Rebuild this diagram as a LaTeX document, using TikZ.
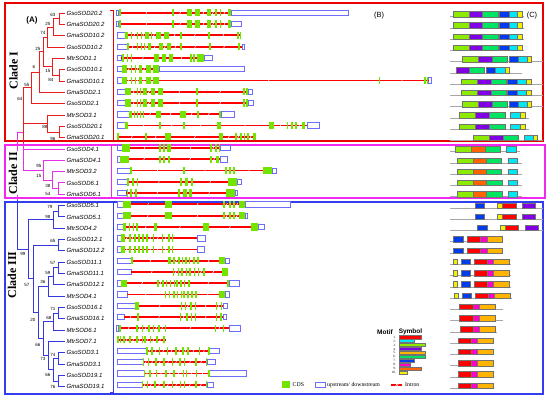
\documentclass[tikz,border=0pt]{standalone}
\usepackage{fontspec}
\setmainfont{Liberation Serif}
\setsansfont{Liberation Sans}
\definecolor{cI}{RGB}{232,30,30}
\definecolor{cII}{RGB}{230,50,230}
\definecolor{cIII}{RGB}{55,55,225}
\definecolor{fI}{RGB}{235,0,0}
\definecolor{fII}{RGB}{240,40,240}
\definecolor{fIII}{RGB}{50,60,240}
\definecolor{cdsg}{RGB}{115,228,0}
\definecolor{utrb}{RGB}{110,110,250}
\definecolor{mlime}{RGB}{140,235,0}
\definecolor{mpurp}{RGB}{130,0,230}
\definecolor{mgreen}{RGB}{0,228,100}
\definecolor{mblue}{RGB}{0,60,235}
\definecolor{mcyan}{RGB}{0,230,245}
\definecolor{myel}{RGB}{240,240,0}
\definecolor{morange}{RGB}{255,100,0}
\definecolor{mred}{RGB}{255,0,0}
\definecolor{mmag}{RGB}{255,0,200}
\definecolor{mgold}{RGB}{255,180,0}
\newcommand\xRY[1]{\pgfmathsetmacro\gy{12.8+11.27*(#1-1)}}
\newcommand\xLY[1]{\pgfmathsetmacro\ly{13+11.33*(#1-1)}}
\newcommand\xMY[1]{\pgfmathsetmacro\my{14+11.26*(#1-1)}}
\newcommand\xgene[4]{\xRY{#1}%
  \draw[intron] (#2,\gy) -- (#3,\gy);%
  \foreach \a/\b [remember=\b as \pb (initially #2)] in {#4}{%
    \pgfmathsetmacro\igap{\a-\pb}%
    \ifdim\igap pt>3pt\relax
      \pgfmathsetmacro\midx{(\a+\pb)/2}%
      \draw[imark] (\midx-0.6,\gy+1.3) -- (\midx+0.6,\gy-1.3);%
    \fi
    \fill[cds] (\a,\gy-3.7) rectangle (\b,\gy+3.7);%
  }}
\newcommand\xutr[3]{\xRY{#1}\draw[utrbox] (#2,\gy-2.7) rectangle (#3,\gy+2.7);}
\newcommand\xmrow[2]{\xMY{#1}\draw[mln] (450,\my+2.7) -- (#2,\my+2.7);}
\newcommand\xmot[3]{\filldraw[motbox,fill=#3] (#1,\my-2.7) rectangle (#2,\my+2.7);}
\tikzset{
  trI/.style={draw=cI,line width=0.9},
  trII/.style={draw=cII,line width=0.9},
  trIII/.style={draw=cIII,line width=0.9},
  frame/.style={line width=1.4},
  intron/.style={draw=red,line width=1.8},
  imark/.style={draw=white,line width=0.55},
  cds/.style={fill=cdsg},
  utrbox/.style={draw=utrb,fill=white,line width=0.75},
  mln/.style={draw=gray!70,line width=0.8},
  motbox/.style={draw=black!55,line width=0.3},
  tip/.style={font=\sffamily\itshape\fontsize{6}{7}\selectfont,anchor=west,inner sep=0pt},
  bs/.style={font=\sffamily\fontsize{4.5}{5}\selectfont,inner sep=0pt},
  cladelab/.style={font=\bfseries\fontsize{12}{13}\selectfont,rotate=90,fill=white,inner sep=1pt},
  legt/.style={font=\fontsize{5.8}{6.5}\selectfont,anchor=west,inner sep=0pt},
}
\begin{document}
\begin{tikzpicture}[x=1pt,y=-1pt]
\useasboundingbox (0,0) rectangle (550,398);
% frames
\draw[frame,fI] (5,3) rectangle (543,141);
\draw[frame,fII] (5,145) rectangle (545,198);
\draw[frame,fIII] (5,202) rectangle (543,394);
\draw[fI,line width=0.8] (110,10) -- (113,10) -- (113,141);
\draw[fII,line width=0.8] (111,145) -- (111,198);
\draw[fIII,line width=0.8] (113,202) -- (113,392) -- (110,392);
% tips
\foreach \n [count=\i] in {GsoSOD20.2,GmaSOD20.2,GmaSOD10.2,GsoSOD10.2,MtrSOD1.1,GsoSOD10.1,GmaSOD10.1,GmaSOD2.1,GsoSOD2.1,MtrSOD3.1,GsoSOD20.1,GmaSOD20.1,GsoSOD4.1,GmaSOD4.1,MtrSOD3.2,GsoSOD6.1,GmaSOD6.1,GsoSOD5.1,GmaSOD5.1,MtrSOD4.2,GsoSOD12.1,GmaSOD12.2,GsoSOD11.1,GmaSOD11.1,GmaSOD12.1,MtrSOD4.1,GsoSOD16.1,GmaSOD16.1,MtrSOD6.1,MtrSOD7.1,GsoSOD3.1,GmaSOD3.1,GsoSOD19.1,GmaSOD19.1}{\xLY{\i}\coordinate (t\i) at (65,\ly);\node[tip] (l\i) at (66.5,\ly) {\n};}
% internal nodes
\coordinate (p1) at (59,18.67);
\coordinate (p2) at (53,27.16);
\coordinate (p3) at (47,37.08);
\coordinate (p4) at (59,75.32);
\coordinate (p5) at (52,66.82);
\coordinate (p6) at (43,51.95);
\coordinate (p7) at (39,72.13);
\coordinate (p8) at (31,87.88);
\coordinate (p9) at (59,131.97);
\coordinate (p10) at (47,123.47);
\coordinate (p11) at (23,105.68);
\coordinate (r12) at (23,132.63);
\coordinate (cutI) at (23,143);
\coordinate (q1) at (58,188.62);
\coordinate (q2) at (52,180.12);
\coordinate (q3) at (43,170.2);
\coordinate (q4) at (23,159.58);
\coordinate (root) at (17,190.99);
\coordinate (cutII) at (17,200);
\coordinate (n5) at (58,211.28);
\coordinate (n5m) at (53,219.77);
\coordinate (n12) at (58,245.27);
\coordinate (n11) at (58,267.93);
\coordinate (n11b) at (53,276.42);
\coordinate (n11c) at (48,286.34);
\coordinate (n16) at (58,313.25);
\coordinate (n16m) at (53,321.74);
\coordinate (n3) at (58,358.57);
\coordinate (n19) at (58,381.23);
\coordinate (n319) at (53,369.9);
\coordinate (n7) at (48,355.73);
\coordinate (n66) at (43,338.74);
\coordinate (n20) at (38,312.54);
\coordinate (n57) at (33,278.9);
\coordinate (root3) at (28,249.34);
\draw[trI] (p1)|-(t1) (p1)|-(t2) (p2)|-(p1) (p2)|-(t3) (p3)|-(p2) (p3)|-(t4) (p4)|-(t6) (p4)|-(t7) (p5)|-(t5) (p5)|-(p4) (p6)|-(p3) (p6)|-(p5) (p7)|-(p6) (p7)|-(t8) (p8)|-(p7) (p8)|-(t9) (p9)|-(t11) (p9)|-(t12) (p10)|-(t10) (p10)|-(p9) (p11)|-(p8) (p11)|-(p10) (p11)--(cutI);
\draw[trII] (cutI)--(q4) (q4)|-(t13) (q4)|-(q3) (q3)|-(t14) (q3)|-(q2) (q2)|-(t15) (q2)|-(q1) (q1)|-(t16) (q1)|-(t17) (root)|-(r12) (root)--(cutII);
\draw[trIII] (cutII)|-(root3) (root3)|-(n5m) (root3)|-(n57) (n5m)|-(n5) (n5m)|-(t20) (n5)|-(t18) (n5)|-(t19) (n57)|-(n12) (n57)|-(n20) (n12)|-(t21) (n12)|-(t22) (n20)|-(n11c) (n20)|-(n66) (n11c)|-(n11b) (n11c)|-(t26) (n11b)|-(n11) (n11b)|-(t25) (n11)|-(t23) (n11)|-(t24) (n66)|-(n16m) (n66)|-(n7) (n16m)|-(n16) (n16m)|-(t29) (n16)|-(t27) (n16)|-(t28) (n7)|-(t30) (n7)|-(n319) (n319)|-(n3) (n319)|-(n19) (n3)|-(t31) (n3)|-(t32) (n19)|-(t33) (n19)|-(t34);
% bootstrap
\node[bs] (b1) at (53,15) {63};
\node[bs] (b2) at (48,24) {25};
\node[bs] (b3) at (43,33) {74};
\node[bs] (b4) at (38,49) {25};
\node[bs] (b5) at (34,67) {6};
\node[bs] (b6) at (48,71) {15};
\node[bs] (b7) at (51,80) {84};
\node[bs] (b8) at (27,85) {55};
\node[bs] (b9) at (20,99) {64};
\node[bs] (b10) at (45,127) {88};
\node[bs] (b11) at (53,139) {96};
\node[bs] (b12) at (39,165.5) {95};
\node[bs] (b13) at (39,176) {15};
\node[bs] (b14) at (48,186) {38};
\node[bs] (b15) at (48,194) {54};
\node[bs] (b16) at (50,207) {79};
\node[bs] (b17) at (48,217) {98};
\node[bs] (b18) at (53,241) {65};
\node[bs] (b19) at (23,254) {99};
\node[bs] (b20) at (53,263) {57};
\node[bs] (b21) at (48,273) {59};
\node[bs] (b22) at (43,282) {36};
\node[bs] (b23) at (27,285) {57};
\node[bs] (b24) at (53,309) {71};
\node[bs] (b25) at (49,318) {68};
\node[bs] (b26) at (33,320) {20};
\node[bs] (b27) at (38,345) {66};
\node[bs] (b28) at (53,355) {74};
\node[bs] (b29) at (43,359) {73};
\node[bs] (b30) at (48,375) {66};
\node[bs] (b31) at (53,387) {76};
% gene structures
\xutr{1}{116.5}{118.5}\xutr{1}{231}{348}
\xgene{1}{118.5}{231}{118.5/121, 172/173.5, 187/192, 195/200, 207/211, 215/216.5, 219.5/221, 228/231}
\xutr{2}{116.5}{118.5}\xutr{2}{231}{241}
\xgene{2}{118.5}{231}{118.5/121, 172/173.5, 187/192, 195/200, 207/211, 215/216.5, 219.5/221, 228/231}
\xutr{3}{117}{125}
\xgene{3}{125}{240.5}{125/127.5, 130.5/131.5, 136.5/137.5, 140.5/141.5, 145/148.5, 150.5/151.5, 156/161, 164/169, 180/181.5, 208/209.5, 237/238.5, 239.5/240.5}
\xutr{4}{117}{127}\xutr{4}{242}{244}
\xgene{4}{127}{242}{127/129, 136.5/137.5, 140.5/141.5, 143.5/144.5, 148/151, 159/163, 167/171, 180/181.5, 209/210.5, 238/239.5}
\xutr{5}{117}{121}\xutr{5}{204}{212}
\xgene{5}{121}{204}{122/123.5, 126.5/127.5, 130.5/132, 154/159, 162/166, 169/173, 190/191.5, 193/194.5, 197/204}
\xutr{6}{117}{122}\xutr{6}{159}{244}
\xgene{6}{122}{159}{122/127, 130.5/131.5, 134.5/135.5, 139/142, 146/151, 153/159}
\xutr{7}{117}{122}\xutr{7}{428.5}{431}
\xgene{7}{122}{428.5}{122/127, 130.5/131.5, 134.5/135.5, 139/142, 146/151, 153/159, 378.5/380, 424/425.5, 426.5/428}
\xutr{8}{117}{125}\xutr{8}{248}{252}
\xgene{8}{125}{248}{125/131, 136.5/137.5, 139.5/140.5, 143/147, 151/155, 158/163, 196/197.5, 243/244.5, 246/247.5}
\xutr{9}{117}{125}\xutr{9}{248}{253}
\xgene{9}{125}{248}{125/131, 136.5/137.5, 139.5/140.5, 143/147, 151/155, 158/163, 196/197.5, 243/244.5, 246/247.5}
\xutr{10}{117}{129}\xutr{10}{221}{234}
\xgene{10}{129}{221}{129/132, 134/135, 136.5/137.5, 140/141, 143/144, 156/161, 180/186, 197/198.5, 219/221}
\xutr{11}{117}{125}\xutr{11}{307}{319}
\xgene{11}{125}{307}{125/128, 159/160.5, 183/184.5, 217/221, 269/274, 286.5/288, 291/292.5, 295/296.5, 302/305}
\xgene{12}{117}{256}{117/119, 145/146.5, 165/171, 219/223, 235/236.5, 240/241.5, 243.5/245, 247/248.5, 253/256}
\xutr{13}{117}{122}\xutr{13}{220}{230}
\xgene{13}{122}{220}{122/130, 159/160.5, 162.5/165, 167/171, 210/211.5, 215/217, 218.5/220}
\xutr{14}{117}{120}\xutr{14}{220}{227}
\xgene{14}{120}{220}{120/129, 159/161, 163/165, 167.5/170, 210/212, 216/218.5}
\xutr{15}{117}{130}\xutr{15}{272}{276}
\xgene{15}{130}{272}{130/132, 183/185, 225/226.5, 228.5/230.5, 233/235, 263/272}
\xutr{16}{117}{127}\xutr{16}{237}{241}
\xgene{16}{127}{237}{127/129, 132/133.5, 136.5/138, 180/182, 185/188, 190.5/192.5, 228/237}
\xutr{17}{117}{126}\xutr{17}{235}{237.5}
\xgene{17}{126}{235}{126.5/128, 130/131.5, 135/136.5, 178/180, 183/186.5, 189/192, 226/235}
\xutr{18}{117}{123}\xutr{18}{245}{290}
\xgene{18}{123}{245}{123/131, 165/172, 223/225, 228.5/230.5, 233/235, 239/245}
\xutr{19}{117}{123}\xutr{19}{245}{247.5}
\xgene{19}{123}{245}{123/131, 165/172, 223/225, 228.5/230.5, 233/235, 239/245}
\xutr{20}{117}{123}\xutr{20}{258}{264}
\xgene{20}{123}{258}{123/125.5, 128.5/130, 132.5/134, 136/137.5, 154/157, 203/209, 251/258}
\xutr{21}{117}{121}\xutr{21}{197}{205}
\xgene{21}{121}{197}{121/125, 128.5/130.5, 134/136, 138/139.5, 141.5/143.5, 146/148, 152.5/154, 161.5/163, 168/169.5, 171.5/173}
\xutr{22}{117}{121}\xutr{22}{197}{204}
\xgene{22}{121}{197}{121/125, 128.5/130.5, 134/136, 138/139.5, 141.5/143.5, 146/148, 152.5/154, 161.5/163, 168/169.5, 171.5/173}
\xutr{23}{117}{131}\xutr{23}{225}{229}
\xgene{23}{131}{225}{131/133, 168/171, 173/174.5, 178/179.5, 181.5/183, 185/186.5, 188.5/190, 193/194.5, 197/198.5, 219/225}
\xutr{24}{117}{131}
\xgene{24}{131}{228}{172.5/174, 177.5/179, 181/182.5, 185.5/187, 189/190.5, 193.5/195, 197.5/199, 203/204.5, 222/228}
\xutr{25}{117}{121}\xutr{25}{229}{239}
\xgene{25}{121}{229}{121/127, 157/158.5, 162/163.5, 165.5/167, 169.5/171, 173.5/175, 176/177.5, 180/181.5, 183.5/185, 188/189.5, 227/228.5}
\xutr{26}{117}{127}\xutr{26}{225}{229}
\xgene{26}{127}{225}{164.5/166, 168.5/170, 173/174.5, 176.5/178, 180.5/182, 183/184.5, 187/188.5, 191/192.5, 195/196.5, 219/225}
\xutr{27}{117}{135}\xutr{27}{223}{227}
\xgene{27}{135}{223}{135/139, 180.5/182, 184.5/186, 190/191.5, 194.5/196, 215.5/217, 220.5/222}
\xutr{28}{117}{124}\xutr{28}{223}{226}
\xgene{28}{124}{223}{137/138.5, 179.5/181, 186/187.5, 190.5/192, 194.5/196, 215.5/217, 220/221.5}
\xutr{29}{116.5}{118.5}\xutr{29}{229}{240}
\xgene{29}{118.5}{229}{118.5/121, 136/137.5, 141.5/143, 148/149.5, 152.5/154, 158/159.5, 164.5/166, 214.5/216, 222.5/224}
\xgene{30}{117}{166}{117/119, 119.5/121, 123/124.5, 129/130.5, 136/137.5, 141.5/143, 144/145.5, 149.5/151, 156/157.5, 163/164.5}
\xutr{31}{117}{146}\xutr{31}{209.5}{219}
\xgene{31}{146}{209.5}{146/147.5, 151/152.5, 158.5/160, 166.5/168, 175/176.5, 182/183.5, 187/188.5, 198.5/200, 208/209.5}
\xutr{32}{117}{143}\xutr{32}{207}{215}
\xgene{32}{143}{207}{142.5/144, 147.5/149, 155/156.5, 163/164.5, 171.5/173, 179/180.5, 183.5/185, 195/196.5, 205.5/207}
\xutr{33}{117}{144}\xutr{33}{209.5}{246}
\xgene{33}{144}{209.5}{143.5/145, 149/150.5, 155.5/157, 165/166.5, 173/174.5, 182.5/184, 185.5/187, 195.5/197, 208/209.5}
\xutr{34}{117}{142}\xutr{34}{207}{213}
\xgene{34}{142}{207}{141.5/143, 146.5/148, 154/155.5, 163/164.5, 171.5/173, 179.5/181, 183.5/185, 195/196.5, 205.5/207}
% motifs
\foreach \r in {1,...,4}{\xmrow{\r}{524}\xmot{453}{469}{mlime}\xmot{469}{482}{mpurp}\xmot{482}{498}{mgreen}\xmot{499}{509}{mblue}\xmot{509}{517}{mcyan}\xmot{517}{522}{myel}}
\foreach \r in {5,9}{\xmrow{\r}{543}\xmot{462}{478}{mlime}\xmot{478}{492}{mpurp}\xmot{492}{507}{mgreen}\xmot{509}{518}{mblue}\xmot{518}{527}{mcyan}\xmot{527}{531}{myel}}
\xmrow{6}{522}\xmot{456}{469}{mpurp}\xmot{469}{484}{mgreen}\xmot{486}{495}{mblue}\xmot{495}{505}{mcyan}\xmot{505}{509}{myel}
\foreach \r in {7,8}{\xmrow{\r}{543}\xmot{461}{477}{mlime}\xmot{477}{491}{mpurp}\xmot{491}{506}{mgreen}\xmot{507}{517}{mblue}\xmot{517}{526}{mcyan}\xmot{526}{531}{myel}}
\foreach \r in {10,11}{\xmrow{\r}{529}\xmot{459}{475}{mlime}\xmot{475}{489}{mpurp}\xmot{489}{505}{mgreen}\xmot{510}{520}{mcyan}\xmot{520}{525}{myel}}
\xmrow{12}{543}\xmot{473}{489}{mlime}\xmot{489}{503}{mpurp}\xmot{503}{518}{mgreen}\xmot{524}{533}{mcyan}\xmot{533}{537}{myel}
\xmrow{13}{520}\xmot{455}{471}{mlime}\xmot{471}{485}{morange}\xmot{485}{500}{mgreen}\xmot{506}{516}{mcyan}
\foreach \r in {14,15}{\xmrow{\r}{522}\xmot{457}{473}{mlime}\xmot{473}{486}{morange}\xmot{486}{501}{mgreen}\xmot{508}{517}{mcyan}}
\foreach \r in {16,17}{\xmrow{\r}{522}\xmot{457}{473}{mlime}\xmot{473}{486}{morange}\xmot{486}{502}{mgreen}\xmot{508}{517}{mcyan}}
\foreach \r in {18,19}{\xmrow{\r}{543}\xmot{475}{484}{mblue}\xmot{497}{502}{myel}\xmot{502}{516}{mred}\xmot{522}{535}{mpurp}}
\xmrow{20}{543}\xmot{477}{487}{mblue}\xmot{500}{505}{myel}\xmot{505}{518}{mred}\xmot{525}{538}{mpurp}
\foreach \r in {21,22}{\xmrow{\r}{503}\xmot{453}{463}{mblue}\xmot{467}{480}{mred}\xmot{480}{487}{mmag}\xmot{487}{502}{mgold}}
\foreach \r in {23,24,25}{\xmrow{\r}{511}\xmot{453}{457}{myel}\xmot{461}{470}{mblue}\xmot{474}{487}{mred}\xmot{487}{493}{mmag}\xmot{493}{509}{mgold}}
\xmrow{26}{512}\xmot{454}{458}{myel}\xmot{462}{471}{mblue}\xmot{475}{488}{mred}\xmot{488}{494}{mmag}\xmot{494}{510}{mgold}
\foreach \r in {27,28}{\xmrow{\r}{503}\xmot{459}{473}{mred}\xmot{473}{479}{mmag}\xmot{479}{495}{mgold}}
\xmrow{29}{497}\xmot{460}{473}{mred}\xmot{473}{479}{mmag}\xmot{479}{495}{mgold}
\foreach \r in {30,...,34}{\xmrow{\r}{494}\xmot{458}{471}{mred}\xmot{471}{477}{mmag}\xmot{477}{493}{mgold}}
% motif legend
\node[font=\sffamily\bfseries\fontsize{6.5}{7}\selectfont,inner sep=0pt] (mh1) at (385,332) {Motif};
\node[font=\sffamily\bfseries\fontsize{6.5}{7}\selectfont,inner sep=0pt] (mh2) at (410.5,332) {Symbol};
\foreach \e/\c [count=\k] in {421/mred,414/mcyan,425/mlime,421/mpurp,425/mgold,425/mgreen,414/mblue,410/mmag,421/morange,407/myel}{
  \pgfmathsetmacro\yy{335.5+(\k-1)*3.95}
  \filldraw[motbox,fill=\c] (399,\yy) rectangle (\e,\yy+3.2);
  \node[font=\fontsize{3.3}{3.5}\selectfont,anchor=east,inner sep=0pt] (mn\k) at (396,\yy+1.6) {\k.};
}
% bottom legend
\fill[cds] (282,381.5) rectangle (290,388.5);
\node[legt] (lcds) at (292.5,385) {CDS};
\draw[utrbox] (315,382.3) rectangle (325,387.5);
\node[legt] (lutr) at (327,385) {upstream/ downstream};
\draw[intron] (391,385) -- (402,385);
\draw[imark] (395.6,386.3) -- (396.8,383.7);
\draw[imark] (397.2,386.3) -- (398.4,383.7);
\node[legt] (lint) at (405,385) {Intron};
% panel labels
\node[font=\sffamily\bfseries\fontsize{8}{9}\selectfont] (lA) at (32,20) {(A)};
\node[font=\sffamily\fontsize{7.5}{8}\selectfont] (lB) at (379,16) {(B)};
\node[font=\sffamily\fontsize{7.5}{8}\selectfont] (lC) at (532,16) {(C)};
\node[cladelab] (c1) at (13.5,70.5) {Clade I};
\node[cladelab] (c2) at (13,173) {Clade II};
\node[cladelab] (c3) at (12,275) {Clade III};
\end{tikzpicture}
\end{document}
